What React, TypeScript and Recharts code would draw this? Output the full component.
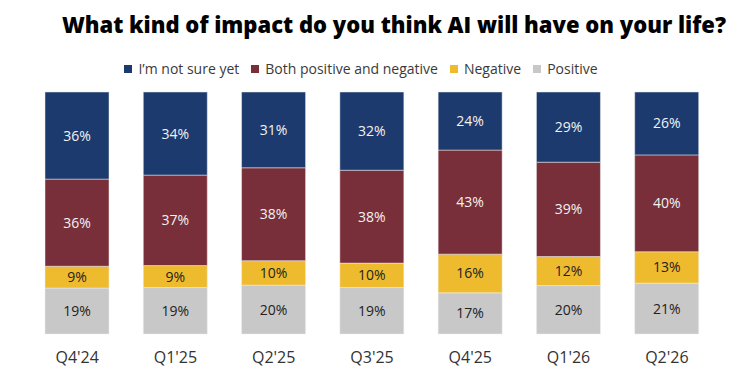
import { BarChart, Bar, XAxis, YAxis, LabelList } from 'recharts';

// ---------------------------------------------------------------------------
// Data
// ---------------------------------------------------------------------------

const quarters = ["Q4'24", "Q1'25", "Q2'25", "Q3'25", "Q4'25", "Q1'26", "Q2'26"];

const notSure = [36, 34, 31, 32, 24, 29, 26];
const mixed = [36, 37, 38, 38, 43, 39, 40];
const negative = [9, 9, 10, 10, 16, 12, 13];
const positive = [19, 19, 20, 19, 17, 20, 21];

// drawn bottom to top
const series = [
  { key: 'positive', name: 'Positive', color: '#c8c8c8', text: '#222222' },
  { key: 'negative', name: 'Negative', color: '#eebb2f', text: '#222222' },
  { key: 'mixed', name: 'Both positive and negative', color: '#782f39', text: '#f2f2f2' },
  { key: 'notSure', name: 'I\u2019m not sure yet', color: '#1d3a6e', text: '#f2f2f2' },
];

const data = quarters.map((q, i) => ({
  quarter: q,
  notSure: notSure[i],
  mixed: mixed[i],
  negative: negative[i],
  positive: positive[i],
}));

const FONT = "'Open Sans', 'Noto Sans', sans-serif";

// ---------------------------------------------------------------------------
// Legend (top-of-stack first)
// ---------------------------------------------------------------------------

function Legend() {
  const items = [...series].reverse();
  return (
    <div
      style={{
        position: 'absolute',
        top: 59,
        left: 0,
        width: 722,
        display: 'flex',
        justifyContent: 'center',
        gap: 12,
        fontFamily: FONT,
        fontSize: 14,
        color: '#3a3a3a',
      }}
    >
      {items.map((s) => (
        <span key={s.key} style={{ display: 'flex', alignItems: 'center' }}>
          <span
            style={{
              width: 8,
              height: 8,
              background: s.color,
              display: 'inline-block',
              marginRight: 6,
            }}
          />
          {s.name}
        </span>
      ))}
    </div>
  );
}

// ---------------------------------------------------------------------------
// App
// ---------------------------------------------------------------------------

export default function App() {
  return (
    <div
      style={{
        position: 'absolute',
        top: 0,
        left: 0,
        width: 750,
        height: 388,
        background: '#ffffff',
      }}
    >
      <div
        style={{
          position: 'absolute',
          top: 9,
          left: 0,
          width: 788,
          textAlign: 'center',
          fontFamily: "'Open Sans', sans-serif",
          fontWeight: 800,
          fontSize: 22,
          color: '#000000',
        }}
      >
        What kind of impact do you think AI will have on your life?
      </div>
      <Legend />
      <BarChart
        width={750}
        height={388}
        data={data}
        stackOffset="expand"
        barCategoryGap={17}
        margin={{ top: 92, right: 34, bottom: 24, left: 28 }}
      >
        <XAxis
          dataKey="quarter"
          axisLine={false}
          tickLine={false}
          height={30}
          tickMargin={12}
          tick={{ fontSize: 16, fill: '#333333', fontFamily: FONT }}
        />
        <YAxis hide domain={[0, 1]} />
        {series.map((s) => (
          <Bar
            key={s.key}
            dataKey={s.key}
            name={s.name}
            stackId="a"
            fill={s.color}
            stroke="#eeeeee"
            strokeWidth={0.5}
            isAnimationActive={false}
          >
            <LabelList
              dataKey={s.key}
              position="center"
              formatter={(v: number) => `${v}%`}
              style={{ fontSize: 14, fill: s.text, fontFamily: FONT }}
            />
          </Bar>
        ))}
      </BarChart>
    </div>
  );
}
